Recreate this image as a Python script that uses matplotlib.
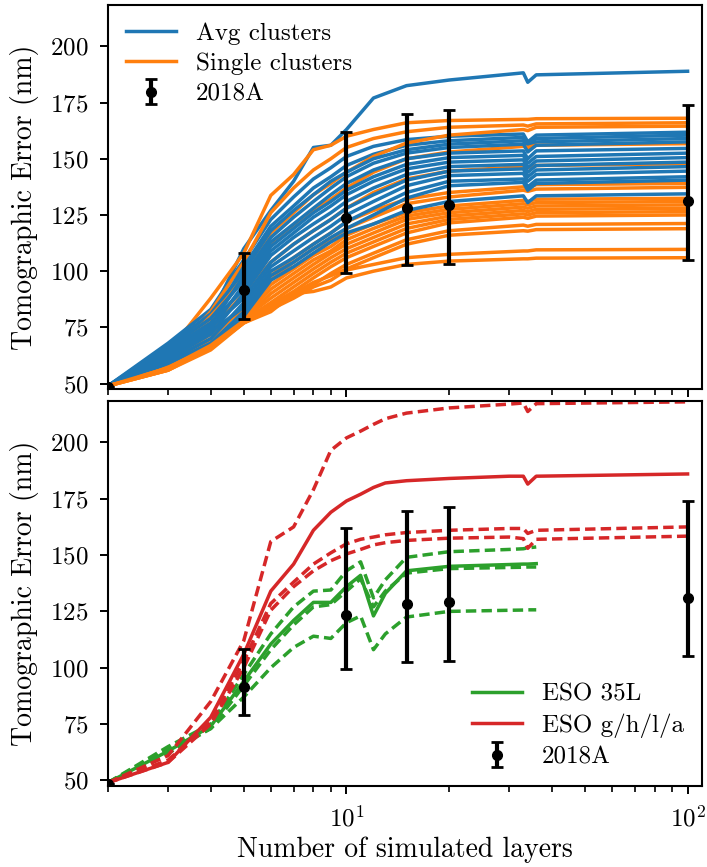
import matplotlib
matplotlib.use('Agg')
import matplotlib.pyplot as plt
import numpy as np
from matplotlib.ticker import NullFormatter

plt.rcParams['font.family'] = 'cmr10'
plt.rcParams['mathtext.fontset'] = 'cm'
plt.rcParams['axes.formatter.use_mathtext'] = True
plt.rcParams['axes.unicode_minus'] = False

# ---- top panel: cluster runs ----
x_top = np.array([2, 3, 4, 5, 6, 7, 8, 9, 10, 12, 15, 20, 33, 34, 36, 100])

avg_clusters = [
    [49, 66, 80, 110, 127, 140, 155, 156, 163, 177, 182.5, 185, 188.2, 184, 187.3, 188.9],
    [49, 68, 83, 105, 123, 133, 141, 146, 151, 155.5, 158.5, 160, 161, 157.5, 160.5, 161.8],
    [49, 64, 78, 102, 120, 129, 137, 142, 147, 152, 156, 158, 159.5, 156, 159, 160.5],
    [49, 67, 81, 100, 118, 127, 134, 140, 144, 150, 154, 156.5, 158, 154.5, 157.5, 159],
    [49, 63, 76, 98, 115, 124, 131, 137, 142, 148, 152.5, 155, 156.5, 153, 156, 157.5],
    [49, 66, 79, 96, 113, 121, 128, 134, 139, 145, 150, 152.5, 153.5, 150, 153.5, 154.6],
    [49, 62, 74, 94, 111, 119, 126, 131, 136, 142, 147.5, 150.5, 151.5, 148, 151, 152.5],
    [49, 65, 77, 92, 109, 117, 124, 129, 134, 140, 145.5, 148.5, 149.5, 146, 149, 150.5],
    [49, 61, 72, 90, 107, 115, 121, 126, 131, 137, 143, 146.5, 147.5, 144, 147, 148.5],
    [49, 64, 75, 88, 104, 112, 118, 123, 128, 134, 140.5, 144.5, 145.5, 142, 145, 146.5],
    [49, 60, 70, 86, 102, 109, 115, 120, 125, 131, 138, 142.5, 143.5, 140, 143, 144.5],
    [49, 63, 73, 84, 100, 106, 112, 117, 122, 128, 135, 140, 141, 137.5, 140.5, 142],
    [49, 59, 68, 82, 98, 104, 110, 115, 119, 125, 132.5, 138, 139.5, 136, 139, 140.5],
    [49, 60, 67, 80, 96, 102, 108, 113, 117, 121, 127, 131, 133.5, 130.5, 133.5, 134.4],
]

single_clusters = [
    [49, 64, 88, 108, 133.7, 143, 154, 156, 160, 163, 166, 167, 167.5, 167.5, 167.8, 168],
    [49, 62, 82, 104, 126, 137, 145, 150, 155, 159, 162, 164, 165, 164.5, 165.5, 166],
    [49, 60, 78, 99, 117, 126, 134, 139, 144, 151, 157, 160.5, 163, 162.5, 164, 164.5],
    [49, 61, 80, 96, 112, 120, 127, 132, 137, 144, 150, 153, 155.5, 155, 156, 156.7],
    [49, 59, 74, 90, 104, 112, 118, 123, 128, 135, 141, 144.5, 146.5, 146, 147, 147.8],
    [49, 58, 70, 84, 98, 106, 112, 117, 122, 127, 132, 135, 137.5, 137, 138.5, 139],
    [49, 59, 72, 83, 96, 104, 110, 114, 119, 124, 130, 133, 136, 135.5, 136.5, 137.3],
    [49, 58, 68, 81, 94, 101, 107, 111, 116, 121, 126, 129, 131.5, 131, 132, 132.4],
    [49, 58, 69, 80, 92, 99, 105, 109, 114, 119, 124.5, 127.5, 130, 129.5, 130.5, 131],
    [49, 57, 67, 79, 90, 97, 103, 108, 112, 117, 123, 126, 128.5, 128, 129, 129.5],
    [49, 58, 68, 79, 88, 95, 101, 106, 110, 115, 121, 124.5, 127, 126.5, 127.5, 128],
    [49, 57, 67, 78, 86, 93, 99, 104, 108, 113, 119, 123, 125.5, 125, 126, 126.5],
    [49, 57, 66, 78, 85, 91, 97, 102, 106, 111, 117, 121.5, 124, 123.5, 124.5, 125],
    [49, 56, 66, 77, 84, 89, 94, 99, 103, 108, 114, 118, 120.5, 120, 120.8, 121.2],
    [49, 57, 67, 78, 85, 90, 95, 98, 101, 106, 112, 116, 118, 117.8, 118.5, 118.9],
    [49, 56, 66, 77, 83, 88, 93, 96, 100.5, 103, 106, 107.5, 109, 109, 109.5, 109.7],
    [49, 56, 65, 77, 82, 90, 91, 93, 97, 100, 103, 104.5, 105.5, 105.5, 105.8, 106],
]

# ---- bottom panel: ESO profiles ----
x_eso = np.array([2, 3, 4, 5, 6, 7, 8, 9, 10, 11, 12, 13, 15, 20, 30, 33, 34, 36, 100])
eso_ghla_solid = [49, 58, 78, 106, 134, 146, 161, 169, 174, 177, 180, 182, 183, 184, 185, 185, 181.5, 185, 186]
eso_ghla_dashed = [
    [49, 61, 85, 112, 156, 162.5, 179, 196.5, 202, 205, 208, 210.5, 213, 215.3, 217, 217.5, 213.7, 217.2, 218],
    [49, 59, 76, 103, 128.5, 138, 146, 151, 155, 157, 158, 159, 160, 161, 161.8, 161.8, 159.6, 161, 162.5],
    [49, 58, 75, 100, 125.5, 136, 143, 147.5, 150.5, 152.5, 154.5, 155.5, 156.5, 157.5, 158, 157.3, 153, 157, 158.4],
]
x_35l = x_eso[:18]
eso35_solid = [49, 63, 74, 94, 110.5, 121, 129, 129, 136, 141, 123, 133, 143, 145, 145.8, 146, 146, 146.2]
eso35_dashed = [
    [49, 65, 75, 97, 115, 127, 134, 134.5, 143, 147, 131, 139, 149, 151.5, 152.5, 152.8, 153.2, 153.6],
    [49, 64, 73, 92, 108, 119, 127, 128, 134, 139.5, 127, 134, 142, 144, 144.5, 144.6, 144.7, 144.7],
    [49, 62, 73, 87, 100, 109, 114, 113, 120, 123, 108, 115, 122.5, 125, 125.5, 125.6, 125.7, 125.7],
]

# ---- 2018A measurements ----
obs_x = np.array([2, 5, 10, 15, 20, 100])
obs_y = np.array([48.5, 91.5, 123.5, 128.3, 129.3, 131.0])
obs_lo = np.array([0, 12.7, 24.2, 25.6, 26.2, 26.0])
obs_hi = np.array([0, 16.7, 38.4, 41.4, 42.2, 43.0])

blue, orange = '#1f77b4', '#ff7f0e'
green, red = '#2ca02c', '#d62728'
lw = 2.5
dash = (0, (3.0, 1.5))

fig = plt.figure(figsize=(7.07, 8.67), dpi=100)
ax1 = fig.add_axes([0.1528, 0.551, 0.8397, 0.4436])
ax2 = fig.add_axes([0.1528, 0.0934, 0.8397, 0.4444], sharex=ax1, sharey=ax1)

n = max(len(avg_clusters), len(single_clusters))
for i in range(n):
    if i < len(avg_clusters):
        ax1.plot(x_top, avg_clusters[i], color=blue, lw=lw,
                 label='Avg clusters' if i == 0 else None)
    if i < len(single_clusters):
        ax1.plot(x_top, single_clusters[i], color=orange, lw=lw,
                 label='Single clusters' if i == 0 else None)

for ys in eso35_dashed:
    ax2.plot(x_35l, ys, color=green, lw=lw, ls=dash)
ax2.plot(x_35l, eso35_solid, color=green, lw=lw, label='ESO 35L')
for ys in eso_ghla_dashed:
    ax2.plot(x_eso, ys, color=red, lw=lw, ls=dash)
ax2.plot(x_eso, eso_ghla_solid, color=red, lw=lw, label='ESO g/h/l/a')

for ax in (ax1, ax2):
    ax.errorbar(obs_x, obs_y, yerr=[obs_lo, obs_hi], fmt='o', color='black',
                ms=7, elinewidth=3, capsize=4.5, capthick=2, label='2018A', zorder=5)
    ax.set_ylabel('Tomographic Error (nm)', fontsize=20, labelpad=8)
    ax.tick_params(which='major', length=6, width=1.4, labelsize=18, pad=8)
    ax.tick_params(which='minor', length=4.5, width=1.2)
    for s in ax.spines.values():
        s.set_linewidth(1.5)

ax1.set_xscale('log')
ax1.set_xlim(2, 110)
ax1.set_ylim(47.5, 218.5)
ax1.set_yticks([50, 75, 100, 125, 150, 175, 200])
ax1.xaxis.set_minor_formatter(NullFormatter())
ax1.tick_params(labelbottom=False)
ax2.set_xlabel('Number of simulated layers', fontsize=20)

ax1.legend(loc='upper left', frameon=False, fontsize=18, handlelength=2.0,
           labelspacing=0.32, borderaxespad=0.3)
ax2.legend(loc='lower right', frameon=False, fontsize=18, handlelength=2.0,
           labelspacing=0.32, borderaxespad=0.3)

fig.savefig('out.png', dpi=100)
